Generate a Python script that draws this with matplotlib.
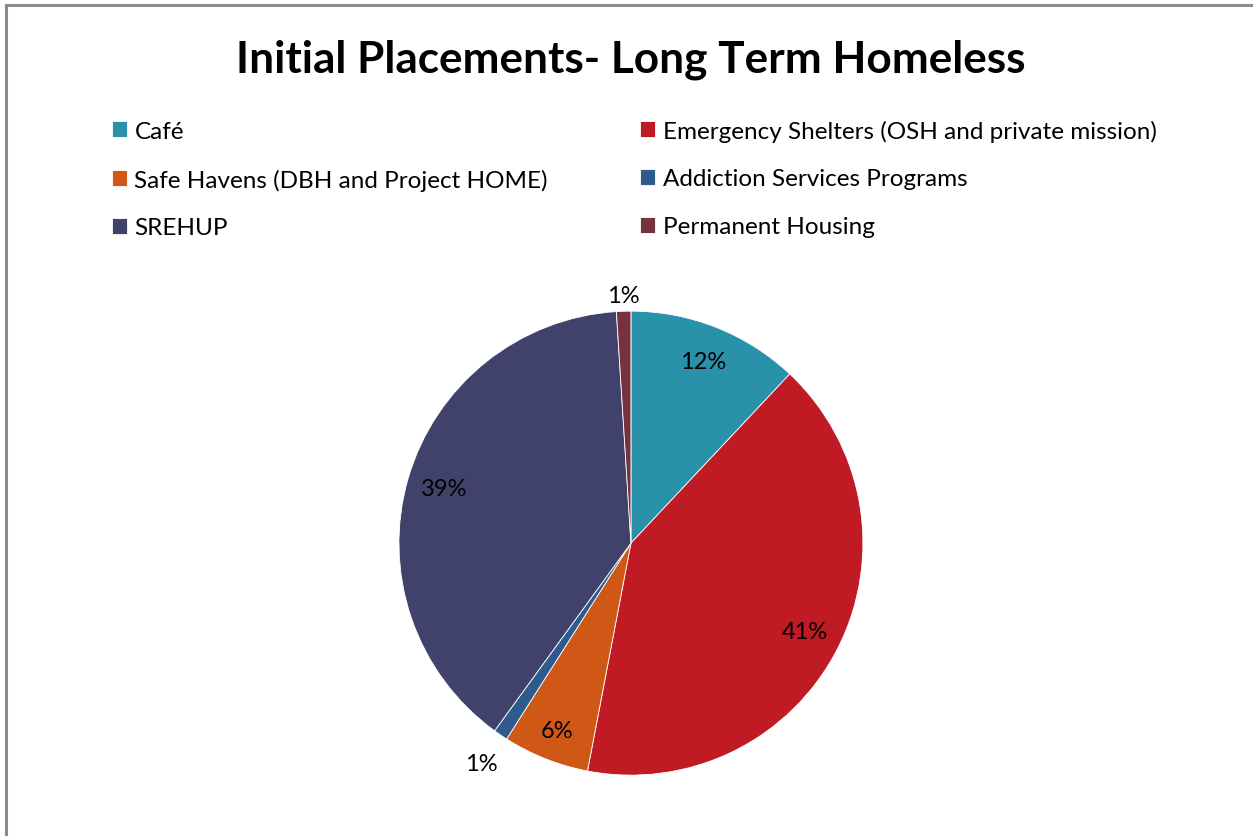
import matplotlib.pyplot as plt
from matplotlib.patches import Rectangle
import numpy as np

# placement shares (percent), clockwise from 12 o'clock
categories = ['Café', 'Emergency Shelters (OSH and private mission)',
              'Safe Havens (DBH and Project HOME)', 'Addiction Services Programs',
              'SREHUP', 'Permanent Housing']
shares = [12, 41, 6, 1, 39, 1]
colors = ['#2a91ab', '#c01b24', '#d05817', '#2e5a8e', '#40426b', '#773241']

plt.rcParams['font.family'] = ['Lato', 'DejaVu Sans']

fig = plt.figure(figsize=(12.53, 8.37), dpi=100)

# grey chart frame (only left and top edges fall inside the image)
fig.patches.append(Rectangle((0.005, -0.1), 1.2, 1.093, transform=fig.transFigure,
                             fill=False, edgecolor='#8c8c8c', linewidth=2.2))

fig.text(0.503, 0.929, 'Initial Placements- Long Term Homeless', ha='center', va='center',
         fontsize=31.8, fontweight='bold')

ax = fig.add_axes([0.3184, 0.0727, 0.3703, 0.5544])
wedges, _ = ax.pie(shares, colors=colors, startangle=90, counterclock=False,
                   wedgeprops=dict(edgecolor='white', linewidth=0.6))
ax.set_xlim(-1, 1)
ax.set_ylim(-1, 1)

# percent labels: inside for big slices, just outside for tiny ones
for w, v in zip(wedges, shares):
    mid = (w.theta1 + w.theta2) / 2
    ang = np.deg2rad(mid)
    if v >= 5:
        r = 0.87 if v < 10 else 0.84
    else:
        r = 1.07 if np.sin(ang) > 0 else 1.15
    ax.text(r * np.cos(ang), r * np.sin(ang), f'{v}%', ha='center', va='center',
            fontsize=17)

order = [0, 2, 4, 1, 3, 5]
fig.legend([wedges[i] for i in order], [categories[i] for i in order],
           loc='upper left', bbox_to_anchor=(0.072, 0.882), ncol=2, frameon=False,
           fontsize=17.5, handlelength=0.62, handleheight=0.62, handletextpad=0.3,
           labelspacing=1.1, columnspacing=3.8)

fig.savefig('out.png', dpi=100)
